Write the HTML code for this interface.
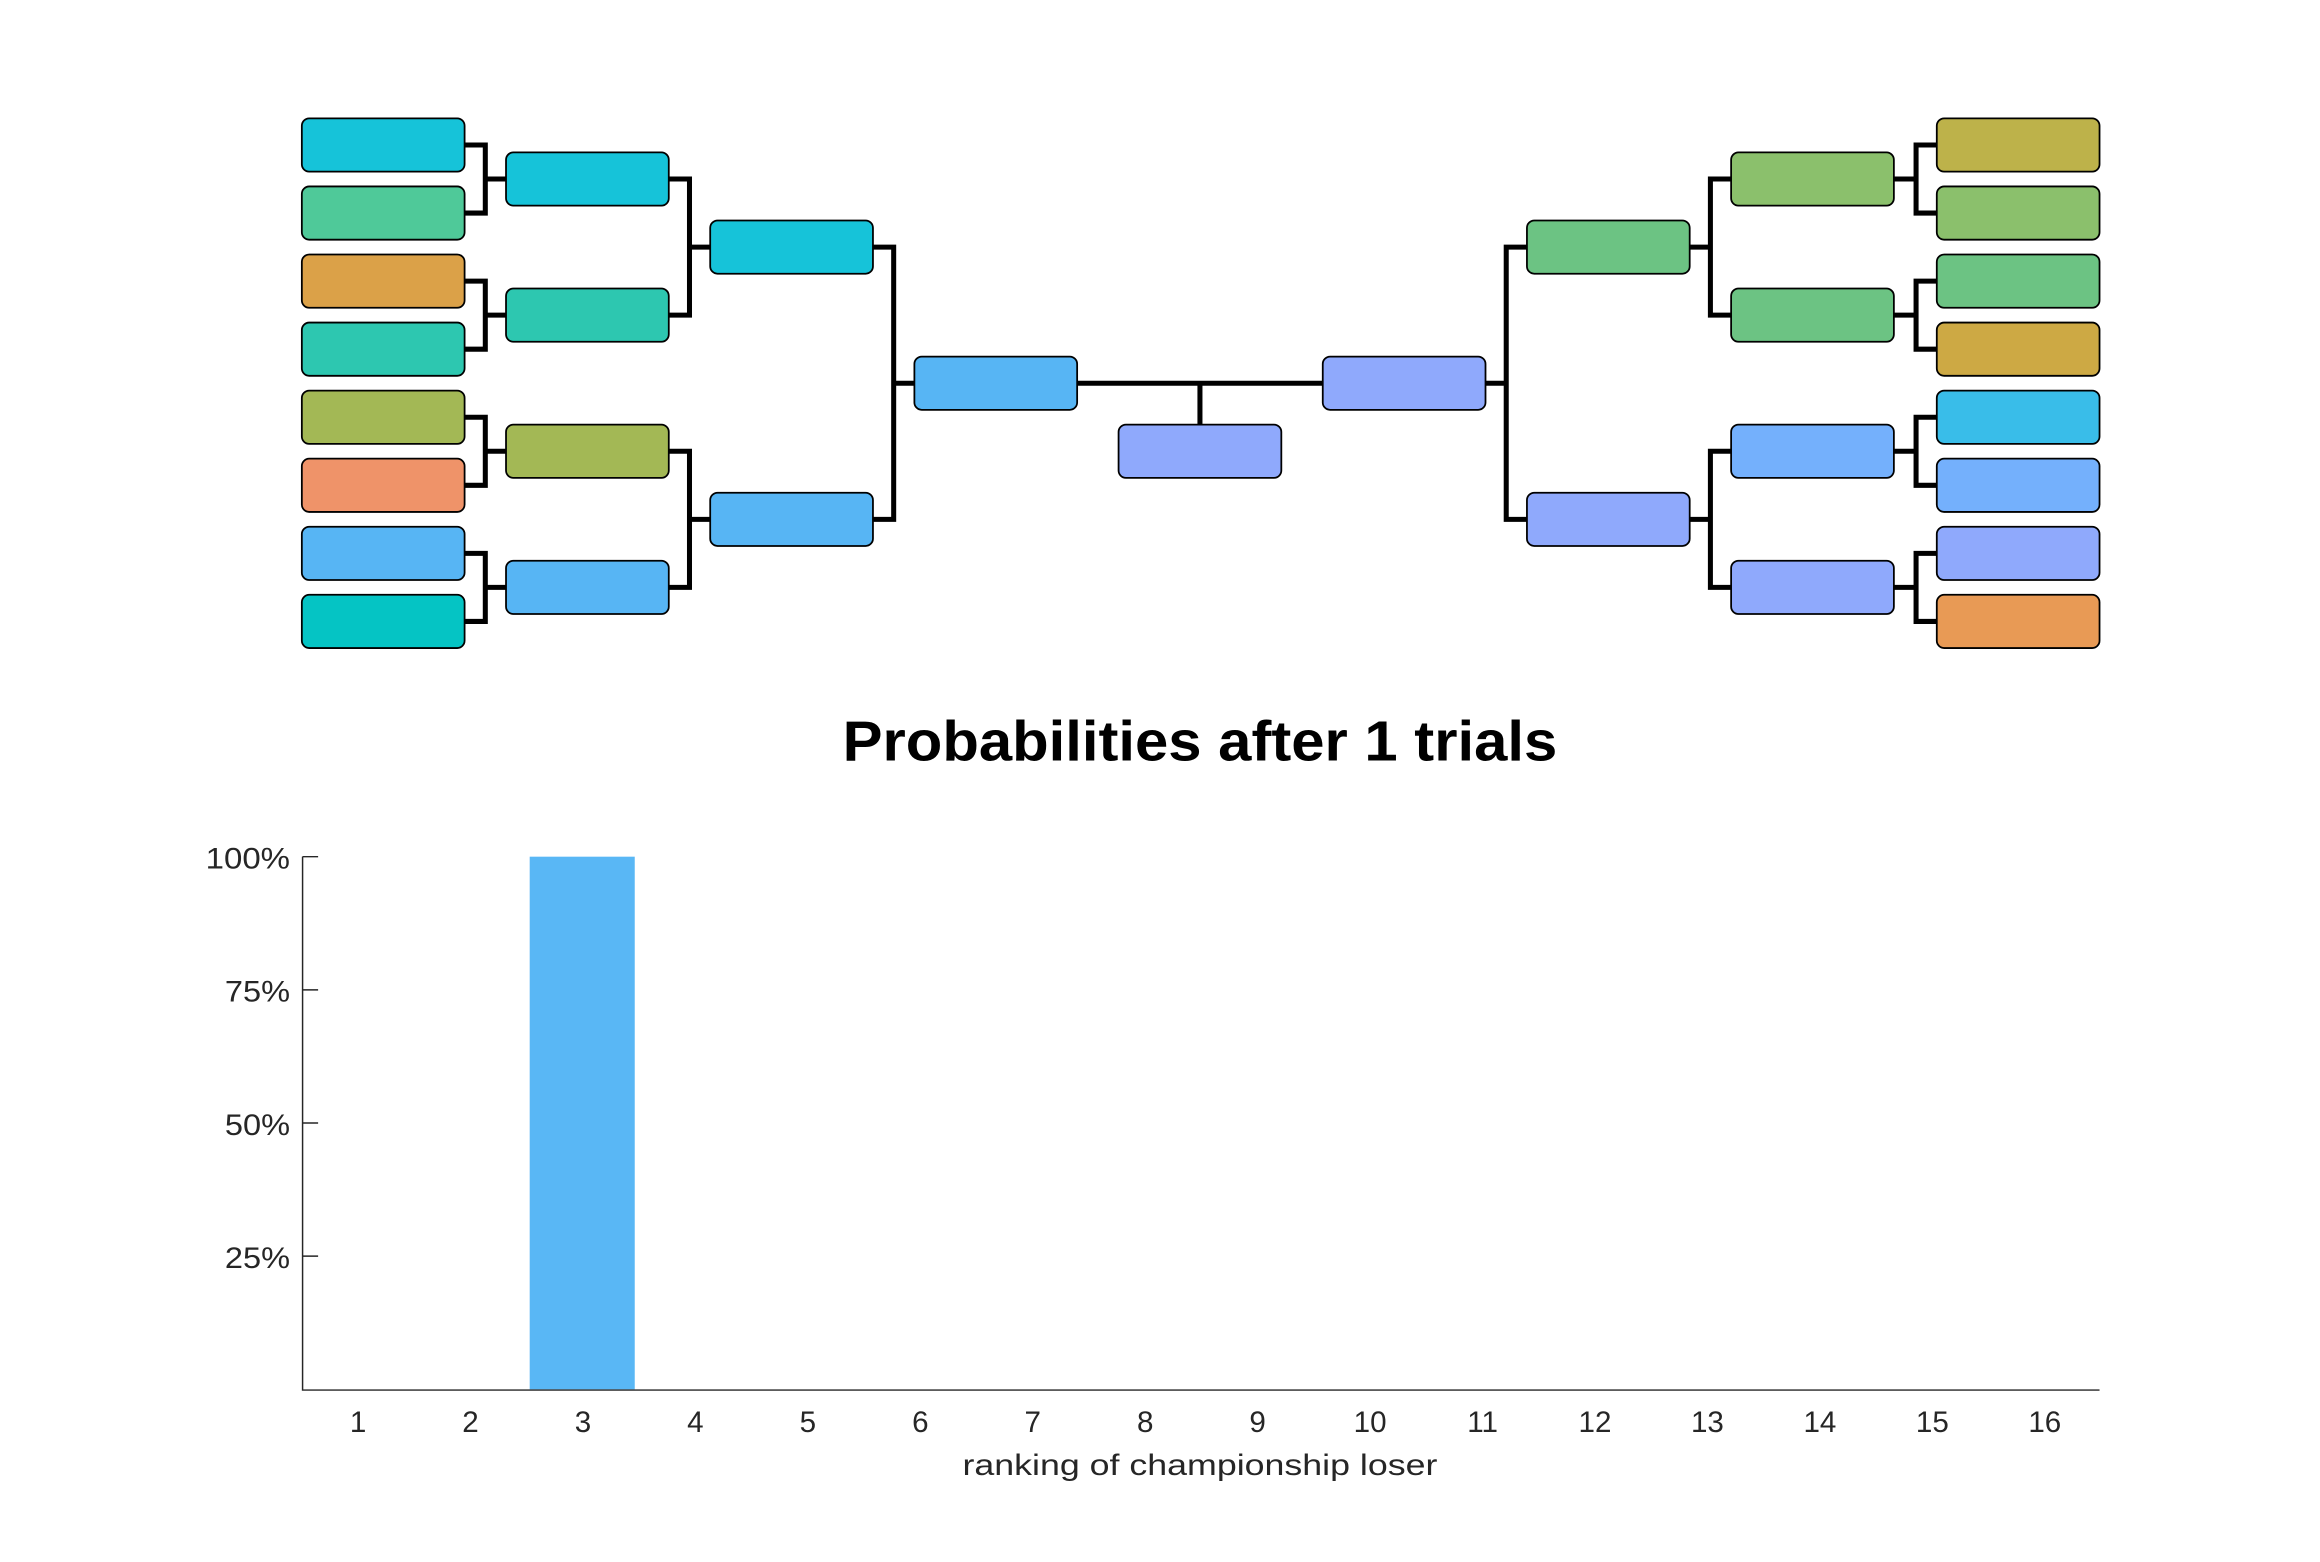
<!DOCTYPE html>
<html><head><meta charset="utf-8"><style>html,body{margin:0;padding:0;background:#fff}svg{display:block}</style></head>
<body>
<svg width="2320" height="1562" viewBox="0 0 1568 1055.7" preserveAspectRatio="none" xmlns="http://www.w3.org/2000/svg" font-family="Liberation Sans, sans-serif">
<rect width="1568" height="1056" fill="#fff"/>
<g fill="none" stroke="#000" stroke-width="3.4" stroke-linejoin="miter">
<path d="M314 98H328V144H314 M328 121H342"/>
<path d="M314 190H328V236H314 M328 213H342"/>
<path d="M314 282H328V328H314 M328 305H342"/>
<path d="M314 374H328V420H314 M328 397H342"/>
<path d="M452 121H466V213H452 M466 167H480"/>
<path d="M452 305H466V397H452 M466 351H480"/>
<path d="M590 167H604V351H590 M604 259H618"/>
<path d="M1309 98H1295V144H1309 M1295 121H1280"/>
<path d="M1309 190H1295V236H1309 M1295 213H1280"/>
<path d="M1309 282H1295V328H1309 M1295 305H1280"/>
<path d="M1309 374H1295V420H1309 M1295 397H1280"/>
<path d="M1170 121H1156V213H1170 M1156 167H1142"/>
<path d="M1170 305H1156V397H1170 M1156 351H1142"/>
<path d="M1032 167H1018V351H1032 M1018 259H1004"/>
<path d="M728 259H894 M811 259V287"/>
</g>
<g stroke="#000" stroke-width="1.2">
<rect x="204" y="80" width="110" height="36" rx="5" fill="#16c3d9"/>
<rect x="204" y="126" width="110" height="36" rx="5" fill="#4fc999"/>
<rect x="204" y="172" width="110" height="36" rx="5" fill="#dba148"/>
<rect x="204" y="218" width="110" height="36" rx="5" fill="#2dc7b0"/>
<rect x="204" y="264" width="110" height="36" rx="5" fill="#a3b855"/>
<rect x="204" y="310" width="110" height="36" rx="5" fill="#ef9369"/>
<rect x="204" y="356" width="110" height="36" rx="5" fill="#57b5f4"/>
<rect x="204" y="402" width="110" height="36" rx="5" fill="#05c4c4"/>
<rect x="342" y="103" width="110" height="36" rx="5" fill="#16c3d9"/>
<rect x="342" y="195" width="110" height="36" rx="5" fill="#2dc7b0"/>
<rect x="342" y="287" width="110" height="36" rx="5" fill="#a3b855"/>
<rect x="342" y="379" width="110" height="36" rx="5" fill="#57b5f4"/>
<rect x="480" y="149" width="110" height="36" rx="5" fill="#16c3d9"/>
<rect x="480" y="333" width="110" height="36" rx="5" fill="#57b5f4"/>
<rect x="618" y="241" width="110" height="36" rx="5" fill="#57b5f4"/>
<rect x="756" y="287" width="110" height="36" rx="5" fill="#8fa9fc"/>
<rect x="894" y="241" width="110" height="36" rx="5" fill="#8fa9fc"/>
<rect x="1032" y="149" width="110" height="36" rx="5" fill="#6cc383"/>
<rect x="1032" y="333" width="110" height="36" rx="5" fill="#8fa9fc"/>
<rect x="1170" y="103" width="110" height="36" rx="5" fill="#8bc06c"/>
<rect x="1170" y="195" width="110" height="36" rx="5" fill="#6cc383"/>
<rect x="1170" y="287" width="110" height="36" rx="5" fill="#74b0fc"/>
<rect x="1170" y="379" width="110" height="36" rx="5" fill="#8fa9fc"/>
<rect x="1309" y="80" width="110" height="36" rx="5" fill="#bdb24a"/>
<rect x="1309" y="126" width="110" height="36" rx="5" fill="#8bc06c"/>
<rect x="1309" y="172" width="110" height="36" rx="5" fill="#6cc383"/>
<rect x="1309" y="218" width="110" height="36" rx="5" fill="#cda944"/>
<rect x="1309" y="264" width="110" height="36" rx="5" fill="#39bde9"/>
<rect x="1309" y="310" width="110" height="36" rx="5" fill="#74b0fc"/>
<rect x="1309" y="356" width="110" height="36" rx="5" fill="#8fa9fc"/>
<rect x="1309" y="402" width="110" height="36" rx="5" fill="#e89a55"/>
</g>
<text x="811" y="514" text-anchor="middle" font-weight="bold" font-size="38" textLength="483" lengthAdjust="spacingAndGlyphs">Probabilities after 1 trials</text>
<rect x="358" y="579" width="71" height="360" fill="#59b7f5"/>
<g stroke="#262626" stroke-width="1" fill="none">
<path d="M204.5 579V939.5H1419"/>
<path d="M204.5 579H215 M204.5 669H215 M204.5 759H215 M204.5 849H215"/>
</g>
<g font-size="20" fill="#262626" text-anchor="end">
<text x="196" y="587" textLength="57" lengthAdjust="spacingAndGlyphs">100%</text>
<text x="196" y="677" textLength="44" lengthAdjust="spacingAndGlyphs">75%</text>
<text x="196" y="767" textLength="44" lengthAdjust="spacingAndGlyphs">50%</text>
<text x="196" y="857" textLength="44" lengthAdjust="spacingAndGlyphs">25%</text>
</g>
<g font-size="20" fill="#262626" text-anchor="middle">
<text x="242" y="968">1</text><text x="318" y="968">2</text><text x="394" y="968">3</text><text x="470" y="968">4</text>
<text x="546" y="968">5</text><text x="622" y="968">6</text><text x="698" y="968">7</text><text x="774" y="968">8</text>
<text x="850" y="968">9</text><text x="926" y="968">10</text><text x="1002" y="968">11</text><text x="1078" y="968">12</text>
<text x="1154" y="968">13</text><text x="1230" y="968">14</text><text x="1306" y="968">15</text><text x="1382" y="968">16</text>
<text x="811" y="997" textLength="321" lengthAdjust="spacingAndGlyphs">ranking of championship loser</text>
</g>
</svg>
</body></html>
